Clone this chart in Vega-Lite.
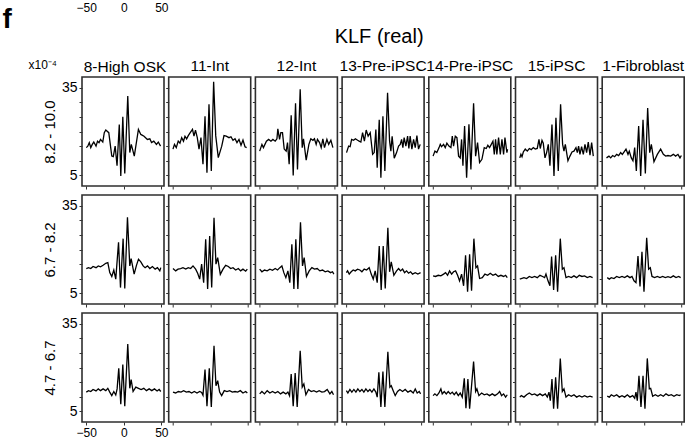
{
  "$schema": "https://vega.github.io/schema/vega-lite/v6.json",
  "background": "white",
  "padding": {"left": 1, "top": 0, "right": 2, "bottom": 2},
  "title": {"text": "KLF (real)", "fontSize": 20, "fontWeight": "normal", "frame": "bounds", "anchor": "middle", "offset": -47, "dx": 36, "color": "#000000"},
  "data": {"values": [
    {"p":11,"x":-50,"y":14.5},{"p":11,"x":-48,"y":15},{"p":11,"x":-46,"y":16.2},{"p":11,"x":-44,"y":14.5},{"p":11,"x":-42,"y":15.6},{"p":11,"x":-40,"y":16.4},{"p":11,"x":-37,"y":15},{"p":11,"x":-35,"y":16.7},{"p":11,"x":-33,"y":16.2},{"p":11,"x":-31,"y":17.3},{"p":11,"x":-28,"y":16.4},{"p":11,"x":-26,"y":19.6},{"p":11,"x":-24,"y":20.5},{"p":11,"x":-20,"y":19.6},{"p":11,"x":-18,"y":15.6},{"p":11,"x":-16,"y":11.6},{"p":11,"x":-14,"y":11.4},{"p":11,"x":-11.5,"y":15},{"p":11,"x":-9,"y":8.3},{"p":11,"x":-6,"y":22.4},{"p":11,"x":-4,"y":4.8},{"p":11,"x":-1.3,"y":25},{"p":11,"x":1.3,"y":5.7},{"p":11,"x":5.3,"y":32.1},{"p":11,"x":8,"y":12.8},{"p":11,"x":10,"y":15.6},{"p":11,"x":14,"y":11.6},{"p":11,"x":19.5,"y":20.7},{"p":11,"x":22.7,"y":19},{"p":11,"x":27,"y":18.4},{"p":11,"x":31.5,"y":17.3},{"p":11,"x":34.7,"y":17.5},{"p":11,"x":37,"y":16.2},{"p":11,"x":40,"y":16.7},{"p":11,"x":43.5,"y":15.6},{"p":11,"x":46,"y":16.4},{"p":11,"x":49,"y":15},
    {"p":12,"x":-50,"y":14},{"p":12,"x":-48,"y":15.6},{"p":12,"x":-45.6,"y":14.5},{"p":12,"x":-43,"y":16.7},{"p":12,"x":-40.7,"y":16},{"p":12,"x":-38.4,"y":17.9},{"p":12,"x":-36,"y":16.7},{"p":12,"x":-34,"y":18.4},{"p":12,"x":-31.8,"y":17.5},{"p":12,"x":-29.6,"y":18.6},{"p":12,"x":-27,"y":19.6},{"p":12,"x":-24,"y":20.7},{"p":12,"x":-22,"y":18.4},{"p":12,"x":-20,"y":20.5},{"p":12,"x":-17.6,"y":17.9},{"p":12,"x":-15.3,"y":14},{"p":12,"x":-12.7,"y":17.9},{"p":12,"x":-10,"y":8.8},{"p":12,"x":-7.3,"y":25.2},{"p":12,"x":-4.7,"y":5.9},{"p":12,"x":-2,"y":29.3},{"p":12,"x":1.1,"y":6.5},{"p":12,"x":4.2,"y":37},{"p":12,"x":7,"y":18.5},{"p":12,"x":10.4,"y":11.1},{"p":12,"x":15,"y":15},{"p":12,"x":18,"y":18.6},{"p":12,"x":21,"y":18.4},{"p":12,"x":24.7,"y":17.9},{"p":12,"x":27.3,"y":18.2},{"p":12,"x":30,"y":17},{"p":12,"x":32.7,"y":17.5},{"p":12,"x":35.3,"y":16.2},{"p":12,"x":38,"y":17.3},{"p":12,"x":40.7,"y":15.3},{"p":12,"x":43.3,"y":17.1},{"p":12,"x":46,"y":14.8},{"p":12,"x":48.2,"y":14.5},
    {"p":13,"x":-50,"y":13.3},{"p":13,"x":-47,"y":15.6},{"p":13,"x":-45,"y":14.5},{"p":13,"x":-41,"y":16.7},{"p":13,"x":-38,"y":17.3},{"p":13,"x":-35,"y":16.7},{"p":13,"x":-32.4,"y":17.3},{"p":13,"x":-29.3,"y":16.7},{"p":13,"x":-27,"y":17.5},{"p":13,"x":-25.8,"y":20.9},{"p":13,"x":-23.5,"y":17.3},{"p":13,"x":-21.8,"y":19.6},{"p":13,"x":-19.6,"y":19.6},{"p":13,"x":-17.3,"y":14},{"p":13,"x":-14.7,"y":13.3},{"p":13,"x":-12.9,"y":16.2},{"p":13,"x":-10.7,"y":8.8},{"p":13,"x":-8,"y":25.5},{"p":13,"x":-5.3,"y":5},{"p":13,"x":-2.2,"y":29.6},{"p":13,"x":0.4,"y":7},{"p":13,"x":4,"y":34.4},{"p":13,"x":6.7,"y":14.5},{"p":13,"x":8.4,"y":17.5},{"p":13,"x":12,"y":10.2},{"p":13,"x":15.6,"y":15.6},{"p":13,"x":18.2,"y":17.5},{"p":13,"x":21,"y":17},{"p":13,"x":23,"y":17.5},{"p":13,"x":25.3,"y":15.6},{"p":13,"x":27,"y":17.3},{"p":13,"x":29.8,"y":16.2},{"p":13,"x":32,"y":14.5},{"p":13,"x":34.2,"y":17.5},{"p":13,"x":36.4,"y":14.5},{"p":13,"x":39.6,"y":17.3},{"p":13,"x":42,"y":15.6},{"p":13,"x":44.9,"y":17},{"p":13,"x":47.6,"y":14.5},
    {"p":14,"x":-49.8,"y":12.8},{"p":14,"x":-47,"y":15},{"p":14,"x":-45,"y":14.8},{"p":14,"x":-43,"y":17.3},{"p":14,"x":-40.4,"y":17},{"p":14,"x":-38,"y":17.5},{"p":14,"x":-35,"y":17},{"p":14,"x":-33,"y":16.7},{"p":14,"x":-30.7,"y":16.4},{"p":14,"x":-28.4,"y":19.6},{"p":14,"x":-26,"y":16.7},{"p":14,"x":-23.6,"y":20.5},{"p":14,"x":-21,"y":18.4},{"p":14,"x":-18.2,"y":19.6},{"p":14,"x":-15,"y":12.2},{"p":14,"x":-12.9,"y":12.8},{"p":14,"x":-10.7,"y":20.7},{"p":14,"x":-8.9,"y":7.6},{"p":14,"x":-6.2,"y":24},{"p":14,"x":-4,"y":4.2},{"p":14,"x":-1.3,"y":25.2},{"p":14,"x":1.3,"y":6.5},{"p":14,"x":4.9,"y":33.2},{"p":14,"x":7.6,"y":16.7},{"p":14,"x":9.3,"y":13.3},{"p":14,"x":11,"y":18.4},{"p":14,"x":13.8,"y":10.9},{"p":14,"x":16.9,"y":12.8},{"p":14,"x":19.6,"y":15},{"p":14,"x":21.8,"y":15.6},{"p":14,"x":23.6,"y":17.3},{"p":14,"x":25.3,"y":14.5},{"p":14,"x":27,"y":17.9},{"p":14,"x":29.3,"y":15},{"p":14,"x":31.6,"y":18.4},{"p":14,"x":33.3,"y":14.2},{"p":14,"x":35,"y":18.4},{"p":14,"x":37.3,"y":14},{"p":14,"x":39.6,"y":17.3},{"p":14,"x":41.8,"y":14.5},{"p":14,"x":44,"y":18.6},{"p":14,"x":46.2,"y":14},{"p":14,"x":48.4,"y":15.6},
    {"p":15,"x":-50,"y":11.6},{"p":15,"x":-47.5,"y":13.3},{"p":15,"x":-45,"y":12.8},{"p":15,"x":-42,"y":14.5},{"p":15,"x":-40.4,"y":15.6},{"p":15,"x":-38.7,"y":14.8},{"p":15,"x":-36,"y":15.6},{"p":15,"x":-33.8,"y":14.5},{"p":15,"x":-31.6,"y":16},{"p":15,"x":-28.9,"y":15},{"p":15,"x":-26.2,"y":14.5},{"p":15,"x":-24.4,"y":18.4},{"p":15,"x":-22.7,"y":15},{"p":15,"x":-20.4,"y":18.4},{"p":15,"x":-18.2,"y":17.9},{"p":15,"x":-16,"y":11.6},{"p":15,"x":-13.8,"y":11},{"p":15,"x":-12,"y":17.3},{"p":15,"x":-10.2,"y":8.3},{"p":15,"x":-8,"y":21.9},{"p":15,"x":-5.3,"y":4.2},{"p":15,"x":-2.2,"y":22.5},{"p":15,"x":0.4,"y":7},{"p":15,"x":4,"y":29.6},{"p":15,"x":6.7,"y":11.6},{"p":15,"x":9.3,"y":16.2},{"p":15,"x":12,"y":9.4},{"p":15,"x":15.1,"y":10.5},{"p":15,"x":18.2,"y":14.5},{"p":15,"x":20.9,"y":14.2},{"p":15,"x":23,"y":15.3},{"p":15,"x":25.3,"y":14.5},{"p":15,"x":27.6,"y":15.6},{"p":15,"x":29.8,"y":16.7},{"p":15,"x":31.6,"y":12.2},{"p":15,"x":33.3,"y":17.3},{"p":15,"x":35,"y":12.2},{"p":15,"x":37.3,"y":17.9},{"p":15,"x":39.6,"y":12.2},{"p":15,"x":41.8,"y":17.3},{"p":15,"x":44,"y":12.2},{"p":15,"x":45.8,"y":17.9},{"p":15,"x":48.4,"y":12.8},{"p":15,"x":49.3,"y":14},
    {"p":16,"x":-50,"y":11},{"p":16,"x":-48.5,"y":12.2},{"p":16,"x":-47,"y":11.4},{"p":16,"x":-45.3,"y":13},{"p":16,"x":-42.7,"y":14},{"p":16,"x":-40,"y":13.3},{"p":16,"x":-37.3,"y":14.2},{"p":16,"x":-34.7,"y":13.8},{"p":16,"x":-32,"y":14.5},{"p":16,"x":-29.3,"y":14},{"p":16,"x":-26.7,"y":14.2},{"p":16,"x":-24.4,"y":17.3},{"p":16,"x":-22.7,"y":14.2},{"p":16,"x":-20.4,"y":17},{"p":16,"x":-18.7,"y":16},{"p":16,"x":-16.4,"y":11},{"p":16,"x":-14.2,"y":12.8},{"p":16,"x":-12,"y":15.6},{"p":16,"x":-9.8,"y":8.3},{"p":16,"x":-7.1,"y":22.4},{"p":16,"x":-4.4,"y":4.8},{"p":16,"x":-1.8,"y":24.7},{"p":16,"x":1.3,"y":6.5},{"p":16,"x":4.4,"y":29.3},{"p":16,"x":7.1,"y":15.6},{"p":16,"x":8.9,"y":13.3},{"p":16,"x":10.7,"y":15.6},{"p":16,"x":14.2,"y":10},{"p":16,"x":16.9,"y":11.6},{"p":16,"x":19.6,"y":13},{"p":16,"x":22.2,"y":13.3},{"p":16,"x":24.9,"y":14.5},{"p":16,"x":26.7,"y":12.8},{"p":16,"x":28.4,"y":15},{"p":16,"x":30.2,"y":12.2},{"p":16,"x":32.4,"y":14.8},{"p":16,"x":34.7,"y":12.2},{"p":16,"x":36.9,"y":15.6},{"p":16,"x":39.1,"y":12.8},{"p":16,"x":41.3,"y":16.4},{"p":16,"x":43.6,"y":11.9},{"p":16,"x":45.8,"y":16.2},{"p":16,"x":48,"y":11.6},
    {"p":17,"x":-50,"y":11},{"p":17,"x":-46.7,"y":11.6},{"p":17,"x":-44.4,"y":11},{"p":17,"x":-41.8,"y":11.8},{"p":17,"x":-39.1,"y":11.4},{"p":17,"x":-36.4,"y":12.2},{"p":17,"x":-33.8,"y":11.8},{"p":17,"x":-31.1,"y":12.8},{"p":17,"x":-28.9,"y":12.2},{"p":17,"x":-26.7,"y":13},{"p":17,"x":-24,"y":14},{"p":17,"x":-21.3,"y":12.2},{"p":17,"x":-19.6,"y":13.3},{"p":17,"x":-16.9,"y":11},{"p":17,"x":-14.7,"y":10},{"p":17,"x":-12.4,"y":14.5},{"p":17,"x":-10.2,"y":6.5},{"p":17,"x":-7.1,"y":21.9},{"p":17,"x":-4.4,"y":4.8},{"p":17,"x":-1.3,"y":24},{"p":17,"x":1.8,"y":5.7},{"p":17,"x":4.9,"y":28},{"p":17,"x":7.6,"y":12.8},{"p":17,"x":9.8,"y":15.6},{"p":17,"x":13.3,"y":9.7},{"p":17,"x":17.8,"y":12.2},{"p":17,"x":22.2,"y":14},{"p":17,"x":25.8,"y":12.2},{"p":17,"x":28.9,"y":11.6},{"p":17,"x":32,"y":11.8},{"p":17,"x":35.6,"y":11.6},{"p":17,"x":39.1,"y":12.2},{"p":17,"x":42.2,"y":11.6},{"p":17,"x":45.3,"y":12.2},{"p":17,"x":48,"y":11},{"p":17,"x":49.8,"y":11.8},
    {"p":21,"x":-50,"y":13.5},{"p":21,"x":-47,"y":13.8},{"p":21,"x":-44,"y":13.5},{"p":21,"x":-41,"y":14.2},{"p":21,"x":-37,"y":13.8},{"p":21,"x":-34,"y":14.4},{"p":21,"x":-31,"y":14.1},{"p":21,"x":-27.6,"y":14.6},{"p":21,"x":-24,"y":15.3},{"p":21,"x":-21.3,"y":15.5},{"p":21,"x":-18.7,"y":12.1},{"p":21,"x":-16,"y":10.8},{"p":21,"x":-13.3,"y":13},{"p":21,"x":-10.7,"y":9.9},{"p":21,"x":-7,"y":22.5},{"p":21,"x":-4.4,"y":7},{"p":21,"x":-0.9,"y":23.7},{"p":21,"x":1.3,"y":6.7},{"p":21,"x":4.9,"y":31},{"p":21,"x":8,"y":14.4},{"p":21,"x":9.8,"y":16.9},{"p":21,"x":13.8,"y":11.6},{"p":21,"x":16.9,"y":14.6},{"p":21,"x":19.6,"y":16.7},{"p":21,"x":22.7,"y":15.8},{"p":21,"x":25.8,"y":14.4},{"p":21,"x":28.4,"y":13.8},{"p":21,"x":31.6,"y":14.4},{"p":21,"x":34.7,"y":13.5},{"p":21,"x":38.2,"y":14.2},{"p":21,"x":41.8,"y":13.3},{"p":21,"x":44.9,"y":13.8},{"p":21,"x":48,"y":12.7},{"p":21,"x":49.3,"y":13.8},
    {"p":22,"x":-50,"y":13.5},{"p":22,"x":-46.4,"y":12.7},{"p":22,"x":-43.3,"y":13.3},{"p":22,"x":-39.8,"y":13.5},{"p":22,"x":-36.7,"y":13.8},{"p":22,"x":-33,"y":13.3},{"p":22,"x":-29.6,"y":13.8},{"p":22,"x":-26.4,"y":13.5},{"p":22,"x":-23.3,"y":14.4},{"p":22,"x":-19.8,"y":13.3},{"p":22,"x":-17.1,"y":11.9},{"p":22,"x":-14.4,"y":9.9},{"p":22,"x":-11.8,"y":15},{"p":22,"x":-9.1,"y":8.7},{"p":22,"x":-6.4,"y":23.5},{"p":22,"x":-3.8,"y":6.5},{"p":22,"x":-1.1,"y":24.6},{"p":22,"x":1.6,"y":7},{"p":22,"x":4.7,"y":30.8},{"p":22,"x":7.3,"y":15},{"p":22,"x":9.6,"y":17.2},{"p":22,"x":13.1,"y":11.5},{"p":22,"x":16.7,"y":13.3},{"p":22,"x":20.2,"y":14.6},{"p":22,"x":23.8,"y":14.2},{"p":22,"x":26.9,"y":13.5},{"p":22,"x":30,"y":13.8},{"p":22,"x":33.6,"y":13},{"p":22,"x":37.1,"y":13.5},{"p":22,"x":40.2,"y":12.7},{"p":22,"x":43.3,"y":13.3},{"p":22,"x":46.9,"y":12.6},{"p":22,"x":49.1,"y":13.3},
    {"p":23,"x":-50,"y":13.3},{"p":23,"x":-47,"y":12.4},{"p":23,"x":-43.6,"y":13},{"p":23,"x":-40,"y":12.7},{"p":23,"x":-36.4,"y":13.3},{"p":23,"x":-32.9,"y":12.9},{"p":23,"x":-29.3,"y":13.5},{"p":23,"x":-26.2,"y":13},{"p":23,"x":-23.1,"y":13.8},{"p":23,"x":-20.4,"y":14.4},{"p":23,"x":-17.8,"y":12.1},{"p":23,"x":-15.1,"y":10.4},{"p":23,"x":-12.4,"y":12.7},{"p":23,"x":-9.8,"y":8.7},{"p":23,"x":-7.1,"y":21.8},{"p":23,"x":-4.4,"y":6.5},{"p":23,"x":-1.8,"y":23.5},{"p":23,"x":0.9,"y":6.5},{"p":23,"x":4.4,"y":29.3},{"p":23,"x":7.1,"y":14.4},{"p":23,"x":9.3,"y":17.2},{"p":23,"x":12.4,"y":10.8},{"p":23,"x":16,"y":12.7},{"p":23,"x":19.6,"y":13.8},{"p":23,"x":23.1,"y":13.3},{"p":23,"x":26.7,"y":13.5},{"p":23,"x":30.2,"y":12.7},{"p":23,"x":33.8,"y":13},{"p":23,"x":37.3,"y":12.4},{"p":23,"x":40.9,"y":12.7},{"p":23,"x":44.4,"y":12.1},{"p":23,"x":47.1,"y":12.4},{"p":23,"x":48.9,"y":11.6},
    {"p":24,"x":-50,"y":12.1},{"p":24,"x":-48.4,"y":12.7},{"p":24,"x":-46.2,"y":11.6},{"p":24,"x":-43.6,"y":12.4},{"p":24,"x":-40.9,"y":13},{"p":24,"x":-38.2,"y":12.7},{"p":24,"x":-35.1,"y":13.3},{"p":24,"x":-32,"y":13},{"p":24,"x":-29.3,"y":12.4},{"p":24,"x":-26.2,"y":13.3},{"p":24,"x":-23.1,"y":13},{"p":24,"x":-19.6,"y":13.8},{"p":24,"x":-16.9,"y":11.6},{"p":24,"x":-14.2,"y":9.9},{"p":24,"x":-11.6,"y":12.7},{"p":24,"x":-8.9,"y":8.7},{"p":24,"x":-6.2,"y":21.2},{"p":24,"x":-3.6,"y":6.2},{"p":24,"x":-0.9,"y":21.2},{"p":24,"x":1.8,"y":6.7},{"p":24,"x":5.3,"y":27.4},{"p":24,"x":7.6,"y":12.4},{"p":24,"x":9.8,"y":15.8},{"p":24,"x":13.3,"y":11.2},{"p":24,"x":16.9,"y":12.7},{"p":24,"x":19.6,"y":13.5},{"p":24,"x":22.2,"y":12.7},{"p":24,"x":24.9,"y":13.3},{"p":24,"x":27.6,"y":12.1},{"p":24,"x":30.2,"y":12.7},{"p":24,"x":32.9,"y":11.9},{"p":24,"x":35.6,"y":12.4},{"p":24,"x":38.2,"y":11.6},{"p":24,"x":41.8,"y":12.1},{"p":24,"x":45.3,"y":11.6},{"p":24,"x":48.9,"y":12.1},
    {"p":25,"x":-50,"y":11},{"p":25,"x":-46.7,"y":10.8},{"p":25,"x":-43.1,"y":11.2},{"p":25,"x":-39.6,"y":11},{"p":25,"x":-36,"y":11.6},{"p":25,"x":-33.3,"y":12.1},{"p":25,"x":-30.7,"y":11.2},{"p":25,"x":-28,"y":12.7},{"p":25,"x":-25.3,"y":11.6},{"p":25,"x":-22.7,"y":12.4},{"p":25,"x":-20,"y":12.7},{"p":25,"x":-17.3,"y":11.2},{"p":25,"x":-14.7,"y":9.3},{"p":25,"x":-12,"y":11.6},{"p":25,"x":-9.3,"y":7.6},{"p":25,"x":-6.7,"y":18},{"p":25,"x":-4,"y":5.6},{"p":25,"x":-1.3,"y":18.4},{"p":25,"x":1.3,"y":5.9},{"p":25,"x":4.4,"y":23.7},{"p":25,"x":7.1,"y":13.8},{"p":25,"x":9.3,"y":14.4},{"p":25,"x":12,"y":10.1},{"p":25,"x":15.6,"y":10.4},{"p":25,"x":19.1,"y":11.6},{"p":25,"x":22.7,"y":11.2},{"p":25,"x":26.2,"y":11.9},{"p":25,"x":29.8,"y":11.2},{"p":25,"x":33.3,"y":11.6},{"p":25,"x":36.9,"y":10.8},{"p":25,"x":40.4,"y":11.2},{"p":25,"x":44,"y":10.8},{"p":25,"x":46.7,"y":11.2},{"p":25,"x":48.9,"y":10.4},
    {"p":26,"x":-50,"y":9.9},{"p":26,"x":-48,"y":10.1},{"p":26,"x":-44.4,"y":10.4},{"p":26,"x":-40.9,"y":10.1},{"p":26,"x":-37.3,"y":10.8},{"p":26,"x":-33.8,"y":10.4},{"p":26,"x":-30.2,"y":10.8},{"p":26,"x":-26.7,"y":10.4},{"p":26,"x":-23.1,"y":11.2},{"p":26,"x":-19.6,"y":10.8},{"p":26,"x":-16.9,"y":10.4},{"p":26,"x":-15.1,"y":11.6},{"p":26,"x":-12.4,"y":9.3},{"p":26,"x":-9.8,"y":7.6},{"p":26,"x":-7.6,"y":17.6},{"p":26,"x":-4.9,"y":6.2},{"p":26,"x":-2.2,"y":18},{"p":26,"x":0.4,"y":5.6},{"p":26,"x":4,"y":23.7},{"p":26,"x":6.7,"y":13.3},{"p":26,"x":8.9,"y":13.8},{"p":26,"x":11.6,"y":10.4},{"p":26,"x":15.1,"y":10.8},{"p":26,"x":18.7,"y":10.4},{"p":26,"x":22.2,"y":11},{"p":26,"x":25.8,"y":10.4},{"p":26,"x":29.3,"y":11.2},{"p":26,"x":32.9,"y":10.8},{"p":26,"x":36.4,"y":11},{"p":26,"x":40,"y":10.4},{"p":26,"x":43.6,"y":10.8},{"p":26,"x":47.1,"y":10.4},
    {"p":27,"x":-49,"y":10.4},{"p":27,"x":-46.2,"y":9.9},{"p":27,"x":-43.6,"y":10.4},{"p":27,"x":-40,"y":10.1},{"p":27,"x":-36.4,"y":10.8},{"p":27,"x":-32.9,"y":10.4},{"p":27,"x":-29.3,"y":10.8},{"p":27,"x":-25.8,"y":10.4},{"p":27,"x":-22.2,"y":11},{"p":27,"x":-18.7,"y":10.4},{"p":27,"x":-16,"y":10.8},{"p":27,"x":-13.3,"y":9.3},{"p":27,"x":-10.7,"y":8.7},{"p":27,"x":-8,"y":17.8},{"p":27,"x":-5.3,"y":7.4},{"p":27,"x":-2.7,"y":19.2},{"p":27,"x":0,"y":5.6},{"p":27,"x":3.6,"y":24},{"p":27,"x":6.2,"y":13.3},{"p":27,"x":8.4,"y":13.8},{"p":27,"x":10.7,"y":10.8},{"p":27,"x":14.2,"y":10.4},{"p":27,"x":17.8,"y":10.8},{"p":27,"x":21.3,"y":10.4},{"p":27,"x":24.9,"y":10.8},{"p":27,"x":28.4,"y":10.4},{"p":27,"x":32,"y":10.7},{"p":27,"x":35.6,"y":10.4},{"p":27,"x":39.1,"y":11},{"p":27,"x":42.7,"y":10.4},{"p":27,"x":46.2,"y":10.8},{"p":27,"x":48.9,"y":10.4},
    {"p":31,"x":-50,"y":11.6},{"p":31,"x":-47,"y":12.1},{"p":31,"x":-44,"y":11.8},{"p":31,"x":-41,"y":12.5},{"p":31,"x":-37,"y":12},{"p":31,"x":-34,"y":12.7},{"p":31,"x":-31,"y":12.1},{"p":31,"x":-27.6,"y":12.7},{"p":31,"x":-24,"y":12.1},{"p":31,"x":-21.3,"y":12.9},{"p":31,"x":-18.7,"y":11.6},{"p":31,"x":-16,"y":10.4},{"p":31,"x":-13.3,"y":11.8},{"p":31,"x":-10.7,"y":10.6},{"p":31,"x":-8.9,"y":12.7},{"p":31,"x":-6.7,"y":19.7},{"p":31,"x":-4,"y":7.5},{"p":31,"x":-1.3,"y":21},{"p":31,"x":1.3,"y":6.8},{"p":31,"x":5.3,"y":28},{"p":31,"x":8,"y":12.9},{"p":31,"x":9.8,"y":15.9},{"p":31,"x":12.4,"y":11.8},{"p":31,"x":16,"y":13.3},{"p":31,"x":19.6,"y":12.9},{"p":31,"x":23.1,"y":12.5},{"p":31,"x":26.7,"y":12.9},{"p":31,"x":30.2,"y":12.1},{"p":31,"x":33.8,"y":12.7},{"p":31,"x":37.3,"y":12.1},{"p":31,"x":40.9,"y":12.7},{"p":31,"x":44.4,"y":12},{"p":31,"x":47.1,"y":12.5},{"p":31,"x":49.3,"y":11.8},
    {"p":32,"x":-50,"y":11.6},{"p":32,"x":-46.4,"y":11.3},{"p":32,"x":-42.9,"y":11.8},{"p":32,"x":-39.3,"y":11.6},{"p":32,"x":-35.8,"y":12.1},{"p":32,"x":-32.2,"y":11.6},{"p":32,"x":-28.7,"y":11.8},{"p":32,"x":-25.1,"y":11.3},{"p":32,"x":-21.6,"y":11.8},{"p":32,"x":-18,"y":11.3},{"p":32,"x":-14.4,"y":11.8},{"p":32,"x":-11.8,"y":11.5},{"p":32,"x":-10,"y":10.5},{"p":32,"x":-7.3,"y":19.3},{"p":32,"x":-4.7,"y":6.8},{"p":32,"x":-1.6,"y":19.7},{"p":32,"x":1.1,"y":6.5},{"p":32,"x":4.7,"y":27.4},{"p":32,"x":7.3,"y":13.8},{"p":32,"x":9.6,"y":15.5},{"p":32,"x":12.2,"y":11.6},{"p":32,"x":14.9,"y":10.4},{"p":32,"x":18.4,"y":12.1},{"p":32,"x":22,"y":11.8},{"p":32,"x":25.6,"y":12.1},{"p":32,"x":29.1,"y":11.6},{"p":32,"x":32.7,"y":11.8},{"p":32,"x":36.2,"y":11.6},{"p":32,"x":39.8,"y":12.1},{"p":32,"x":43.3,"y":11.3},{"p":32,"x":46.9,"y":11.8},{"p":32,"x":49.1,"y":11.3},
    {"p":33,"x":-50,"y":11},{"p":33,"x":-47,"y":11.8},{"p":33,"x":-43.6,"y":11},{"p":33,"x":-40,"y":12.1},{"p":33,"x":-36.4,"y":11.3},{"p":33,"x":-32.9,"y":11.8},{"p":33,"x":-29.3,"y":11.3},{"p":33,"x":-25.8,"y":11.8},{"p":33,"x":-22.2,"y":11},{"p":33,"x":-18.7,"y":11.6},{"p":33,"x":-15.1,"y":11},{"p":33,"x":-12.4,"y":11.6},{"p":33,"x":-10.2,"y":10.4},{"p":33,"x":-8,"y":17.8},{"p":33,"x":-5.3,"y":6.8},{"p":33,"x":-2.7,"y":18.1},{"p":33,"x":0,"y":6.5},{"p":33,"x":4,"y":25.7},{"p":33,"x":6.7,"y":13.3},{"p":33,"x":8.9,"y":14.4},{"p":33,"x":11.6,"y":10.7},{"p":33,"x":15.1,"y":12.5},{"p":33,"x":18.7,"y":11.8},{"p":33,"x":22.2,"y":12.1},{"p":33,"x":25.8,"y":11.6},{"p":33,"x":29.3,"y":12.1},{"p":33,"x":32.9,"y":11.6},{"p":33,"x":36.4,"y":11.8},{"p":33,"x":40,"y":12.5},{"p":33,"x":43.6,"y":11},{"p":33,"x":46.2,"y":11.8},{"p":33,"x":48.4,"y":10.7},
    {"p":34,"x":-50,"y":12.1},{"p":34,"x":-48,"y":11.3},{"p":34,"x":-45.3,"y":12.5},{"p":34,"x":-42.7,"y":11.6},{"p":34,"x":-40,"y":12.5},{"p":34,"x":-37.3,"y":11.6},{"p":34,"x":-34.7,"y":12.7},{"p":34,"x":-32,"y":11.8},{"p":34,"x":-29.3,"y":12.5},{"p":34,"x":-26.7,"y":11.6},{"p":34,"x":-24,"y":12.7},{"p":34,"x":-21.3,"y":11.8},{"p":34,"x":-18.7,"y":12.5},{"p":34,"x":-16,"y":11.6},{"p":34,"x":-13.3,"y":12.7},{"p":34,"x":-10.7,"y":11.6},{"p":34,"x":-8.9,"y":9.9},{"p":34,"x":-6.7,"y":18.4},{"p":34,"x":-4,"y":6.5},{"p":34,"x":-1.3,"y":18.6},{"p":34,"x":1.3,"y":6.5},{"p":34,"x":5.3,"y":25.4},{"p":34,"x":8,"y":13.3},{"p":34,"x":9.8,"y":13.8},{"p":34,"x":12.4,"y":12.1},{"p":34,"x":15.1,"y":10.4},{"p":34,"x":18.2,"y":11.8},{"p":34,"x":21.3,"y":12.5},{"p":34,"x":24.9,"y":11.8},{"p":34,"x":28.4,"y":12.5},{"p":34,"x":32,"y":11.6},{"p":34,"x":35.6,"y":12.1},{"p":34,"x":39.1,"y":11.3},{"p":34,"x":41.8,"y":12.7},{"p":34,"x":44.4,"y":11.3},{"p":34,"x":47.1,"y":11.8},{"p":34,"x":48.9,"y":11},
    {"p":35,"x":-50,"y":10.4},{"p":35,"x":-47.6,"y":11},{"p":35,"x":-44.9,"y":10.4},{"p":35,"x":-42.2,"y":11.3},{"p":35,"x":-39.6,"y":12.7},{"p":35,"x":-37.8,"y":11},{"p":35,"x":-35.1,"y":11.8},{"p":35,"x":-32.4,"y":11},{"p":35,"x":-29.8,"y":11.8},{"p":35,"x":-27.1,"y":11},{"p":35,"x":-24.4,"y":11.6},{"p":35,"x":-21.8,"y":10.7},{"p":35,"x":-19.1,"y":11.6},{"p":35,"x":-16.4,"y":10.4},{"p":35,"x":-13.8,"y":11.3},{"p":35,"x":-11.1,"y":9.9},{"p":35,"x":-8.4,"y":16.3},{"p":35,"x":-6.2,"y":6.1},{"p":35,"x":-3.6,"y":16.1},{"p":35,"x":-1.3,"y":5.9},{"p":35,"x":4,"y":22},{"p":35,"x":6.7,"y":11.8},{"p":35,"x":8.4,"y":12.7},{"p":35,"x":11.1,"y":10.4},{"p":35,"x":14.7,"y":11.3},{"p":35,"x":18.2,"y":10.7},{"p":35,"x":21.8,"y":11},{"p":35,"x":25.3,"y":10.4},{"p":35,"x":28.9,"y":11},{"p":35,"x":32.4,"y":10.4},{"p":35,"x":36,"y":11},{"p":35,"x":38.7,"y":11.8},{"p":35,"x":41.3,"y":10.4},{"p":35,"x":44,"y":11},{"p":35,"x":46.7,"y":9.9},{"p":35,"x":48.9,"y":10.7},
    {"p":36,"x":-50,"y":9.9},{"p":36,"x":-48,"y":10.4},{"p":36,"x":-44.4,"y":9.9},{"p":36,"x":-40.9,"y":10.7},{"p":36,"x":-37.3,"y":11.3},{"p":36,"x":-33.8,"y":10.7},{"p":36,"x":-30.2,"y":11},{"p":36,"x":-26.7,"y":10.4},{"p":36,"x":-23.1,"y":11},{"p":36,"x":-19.6,"y":10.4},{"p":36,"x":-16,"y":11},{"p":36,"x":-13.3,"y":9.9},{"p":36,"x":-11.1,"y":11.6},{"p":36,"x":-9.3,"y":8.7},{"p":36,"x":-7.1,"y":16.1},{"p":36,"x":-4.9,"y":5.9},{"p":36,"x":-2.2,"y":16.7},{"p":36,"x":0.4,"y":5.9},{"p":36,"x":4,"y":23.1},{"p":36,"x":6.7,"y":11.8},{"p":36,"x":8.9,"y":12.7},{"p":36,"x":11.6,"y":9.9},{"p":36,"x":15.1,"y":10.7},{"p":36,"x":18.7,"y":10.2},{"p":36,"x":22.2,"y":10.7},{"p":36,"x":25.8,"y":9.9},{"p":36,"x":29.3,"y":10.4},{"p":36,"x":32.9,"y":9.9},{"p":36,"x":36.4,"y":10.4},{"p":36,"x":40,"y":9.9},{"p":36,"x":43.6,"y":10.2},{"p":36,"x":47.1,"y":9.9},
    {"p":37,"x":-49,"y":10.2},{"p":37,"x":-46.2,"y":9.9},{"p":37,"x":-43.6,"y":10.7},{"p":37,"x":-40,"y":10.2},{"p":37,"x":-36.4,"y":10.7},{"p":37,"x":-32.9,"y":9.9},{"p":37,"x":-29.3,"y":10.4},{"p":37,"x":-25.8,"y":9.9},{"p":37,"x":-22.2,"y":10.7},{"p":37,"x":-18.7,"y":9.9},{"p":37,"x":-15.1,"y":10.4},{"p":37,"x":-12.4,"y":9.5},{"p":37,"x":-10.7,"y":11.6},{"p":37,"x":-8.9,"y":8.7},{"p":37,"x":-6.7,"y":17.2},{"p":37,"x":-4,"y":6.5},{"p":37,"x":-1.3,"y":17.2},{"p":37,"x":1.3,"y":5.9},{"p":37,"x":4.4,"y":23.1},{"p":37,"x":7.1,"y":12.7},{"p":37,"x":8.9,"y":12.9},{"p":37,"x":11.6,"y":10.2},{"p":37,"x":15.1,"y":10.7},{"p":37,"x":18.7,"y":10.2},{"p":37,"x":22.2,"y":10.7},{"p":37,"x":25.8,"y":10.2},{"p":37,"x":29.3,"y":11},{"p":37,"x":32.9,"y":10.4},{"p":37,"x":36.4,"y":10.7},{"p":37,"x":40,"y":10.2},{"p":37,"x":43.6,"y":10.7},{"p":37,"x":47.1,"y":10.4},{"p":37,"x":48.9,"y":10.7}
  ]},
  "columns": 7,
  "bounds": "flush",
  "spacing": {"row": 9, "column": 4.7},
  "concat": [
    {
      "title": {"text": "8-High OSK", "offset": -74, "dx": 2},
      "transform": [{"filter": "datum.p==11"}],
      "layer": [
        {"mark": "line", "encoding": {
          "x": {"field": "x", "type": "quantitative", "scale": {"domain": [-55.7, 53.6], "nice": false}, "axis": {"values": [-50, 0, 50], "labels": false, "title": "x10⁻⁴", "titleFontSize": 12, "titleAngle": 0, "titleAlign": "left", "titleBaseline": "alphabetic", "titleX": -54, "titleY": -118}},
          "y": {"field": "y", "type": "quantitative", "scale": {"domain": [1.4, 38.6], "nice": false}, "axis": {"values": [5, 10, 15, 20, 25, 30, 35], "labelExpr": "datum.value==5||datum.value==35?datum.label:''", "title": "8.2 - 10.0", "titleFontSize": 15, "titleAngle": -90, "titleAlign": "center", "titleBaseline": "alphabetic", "titleX": -28, "titleY": 54.5}}
        }},
        {"transform": [{"filter": "false"}], "mark": "line", "encoding": {
          "x": {"field": "x", "type": "quantitative", "scale": {"domain": [-55.7, 53.6], "nice": false}, "axis": {"orient": "top", "offset": 63, "values": [-50, 0, 50], "ticks": false, "labelPadding": 0, "title": "f", "titleFontSize": 28, "titleFontWeight": "bold", "titleAngle": 0, "titleAlign": "left", "titleBaseline": "alphabetic", "titleX": -80, "titleY": 13}},
          "y": {"field": "y", "type": "quantitative", "axis": null}
        }}
      ],
      "resolve": {"axis": {"x": "independent", "y": "independent"}}
    },
    {"title": "11-Int", "transform": [{"filter": "datum.p==12"}], "mark": "line", "encoding": {"x": {"field": "x", "type": "quantitative", "scale": {"domain": [-55.7, 53.6], "nice": false}, "axis": {"values": [-50, 0, 50], "labels": false, "title": null}}, "y": {"field": "y", "type": "quantitative", "scale": {"domain": [1.4, 38.6], "nice": false}, "axis": {"values": [5, 10, 15, 20, 25, 30, 35], "labels": false, "title": null}}}},
    {"title": "12-Int", "transform": [{"filter": "datum.p==13"}], "mark": "line", "encoding": {"x": {"field": "x", "type": "quantitative", "scale": {"domain": [-55.7, 53.6], "nice": false}, "axis": {"values": [-50, 0, 50], "labels": false, "title": null}}, "y": {"field": "y", "type": "quantitative", "scale": {"domain": [1.4, 38.6], "nice": false}, "axis": {"values": [5, 10, 15, 20, 25, 30, 35], "labels": false, "title": null}}}},
    {"title": "13-Pre-iPSC", "transform": [{"filter": "datum.p==14"}], "mark": "line", "encoding": {"x": {"field": "x", "type": "quantitative", "scale": {"domain": [-55.7, 53.6], "nice": false}, "axis": {"values": [-50, 0, 50], "labels": false, "title": null}}, "y": {"field": "y", "type": "quantitative", "scale": {"domain": [1.4, 38.6], "nice": false}, "axis": {"values": [5, 10, 15, 20, 25, 30, 35], "labels": false, "title": null}}}},
    {"title": "14-Pre-iPSC", "transform": [{"filter": "datum.p==15"}], "mark": "line", "encoding": {"x": {"field": "x", "type": "quantitative", "scale": {"domain": [-55.7, 53.6], "nice": false}, "axis": {"values": [-50, 0, 50], "labels": false, "title": null}}, "y": {"field": "y", "type": "quantitative", "scale": {"domain": [1.4, 38.6], "nice": false}, "axis": {"values": [5, 10, 15, 20, 25, 30, 35], "labels": false, "title": null}}}},
    {"title": "15-iPSC", "transform": [{"filter": "datum.p==16"}], "mark": "line", "encoding": {"x": {"field": "x", "type": "quantitative", "scale": {"domain": [-55.7, 53.6], "nice": false}, "axis": {"values": [-50, 0, 50], "labels": false, "title": null}}, "y": {"field": "y", "type": "quantitative", "scale": {"domain": [1.4, 38.6], "nice": false}, "axis": {"values": [5, 10, 15, 20, 25, 30, 35], "labels": false, "title": null}}}},
    {"title": "1-Fibroblast", "transform": [{"filter": "datum.p==17"}], "mark": "line", "encoding": {"x": {"field": "x", "type": "quantitative", "scale": {"domain": [-55.7, 53.6], "nice": false}, "axis": {"values": [-50, 0, 50], "labels": false, "title": null}}, "y": {"field": "y", "type": "quantitative", "scale": {"domain": [1.4, 38.6], "nice": false}, "axis": {"values": [5, 10, 15, 20, 25, 30, 35], "labels": false, "title": null}}}},
    {"transform": [{"filter": "datum.p==21"}], "mark": "line", "encoding": {"x": {"field": "x", "type": "quantitative", "scale": {"domain": [-55.7, 53.6], "nice": false}, "axis": {"values": [-50, 0, 50], "labels": false, "title": null}}, "y": {"field": "y", "type": "quantitative", "scale": {"domain": [1.4, 38.6], "nice": false}, "axis": {"values": [5, 10, 15, 20, 25, 30, 35], "labelExpr": "datum.value==5||datum.value==35?datum.label:''", "title": "6.7 - 8.2", "titleFontSize": 15, "titleAngle": -90, "titleAlign": "center", "titleBaseline": "alphabetic", "titleX": -28, "titleY": 54.5}}}},
    {"transform": [{"filter": "datum.p==22"}], "mark": "line", "encoding": {"x": {"field": "x", "type": "quantitative", "scale": {"domain": [-55.7, 53.6], "nice": false}, "axis": {"values": [-50, 0, 50], "labels": false, "title": null}}, "y": {"field": "y", "type": "quantitative", "scale": {"domain": [1.4, 38.6], "nice": false}, "axis": {"values": [5, 10, 15, 20, 25, 30, 35], "labels": false, "title": null}}}},
    {"transform": [{"filter": "datum.p==23"}], "mark": "line", "encoding": {"x": {"field": "x", "type": "quantitative", "scale": {"domain": [-55.7, 53.6], "nice": false}, "axis": {"values": [-50, 0, 50], "labels": false, "title": null}}, "y": {"field": "y", "type": "quantitative", "scale": {"domain": [1.4, 38.6], "nice": false}, "axis": {"values": [5, 10, 15, 20, 25, 30, 35], "labels": false, "title": null}}}},
    {"transform": [{"filter": "datum.p==24"}], "mark": "line", "encoding": {"x": {"field": "x", "type": "quantitative", "scale": {"domain": [-55.7, 53.6], "nice": false}, "axis": {"values": [-50, 0, 50], "labels": false, "title": null}}, "y": {"field": "y", "type": "quantitative", "scale": {"domain": [1.4, 38.6], "nice": false}, "axis": {"values": [5, 10, 15, 20, 25, 30, 35], "labels": false, "title": null}}}},
    {"transform": [{"filter": "datum.p==25"}], "mark": "line", "encoding": {"x": {"field": "x", "type": "quantitative", "scale": {"domain": [-55.7, 53.6], "nice": false}, "axis": {"values": [-50, 0, 50], "labels": false, "title": null}}, "y": {"field": "y", "type": "quantitative", "scale": {"domain": [1.4, 38.6], "nice": false}, "axis": {"values": [5, 10, 15, 20, 25, 30, 35], "labels": false, "title": null}}}},
    {"transform": [{"filter": "datum.p==26"}], "mark": "line", "encoding": {"x": {"field": "x", "type": "quantitative", "scale": {"domain": [-55.7, 53.6], "nice": false}, "axis": {"values": [-50, 0, 50], "labels": false, "title": null}}, "y": {"field": "y", "type": "quantitative", "scale": {"domain": [1.4, 38.6], "nice": false}, "axis": {"values": [5, 10, 15, 20, 25, 30, 35], "labels": false, "title": null}}}},
    {"transform": [{"filter": "datum.p==27"}], "mark": "line", "encoding": {"x": {"field": "x", "type": "quantitative", "scale": {"domain": [-55.7, 53.6], "nice": false}, "axis": {"values": [-50, 0, 50], "labels": false, "title": null}}, "y": {"field": "y", "type": "quantitative", "scale": {"domain": [1.4, 38.6], "nice": false}, "axis": {"values": [5, 10, 15, 20, 25, 30, 35], "labels": false, "title": null}}}},
    {"transform": [{"filter": "datum.p==31"}], "mark": "line", "encoding": {"x": {"field": "x", "type": "quantitative", "scale": {"domain": [-55.7, 53.6], "nice": false}, "axis": {"values": [-50, 0, 50], "labels": true, "title": null}}, "y": {"field": "y", "type": "quantitative", "scale": {"domain": [1.4, 38.6], "nice": false}, "axis": {"values": [5, 10, 15, 20, 25, 30, 35], "labelExpr": "datum.value==5||datum.value==35?datum.label:''", "title": "4.7 - 6.7", "titleFontSize": 15, "titleAngle": -90, "titleAlign": "center", "titleBaseline": "alphabetic", "titleX": -28, "titleY": 54.5}}}},
    {"transform": [{"filter": "datum.p==32"}], "mark": "line", "encoding": {"x": {"field": "x", "type": "quantitative", "scale": {"domain": [-55.7, 53.6], "nice": false}, "axis": {"values": [-50, 0, 50], "labels": false, "title": null}}, "y": {"field": "y", "type": "quantitative", "scale": {"domain": [1.4, 38.6], "nice": false}, "axis": {"values": [5, 10, 15, 20, 25, 30, 35], "labels": false, "title": null}}}},
    {"transform": [{"filter": "datum.p==33"}], "mark": "line", "encoding": {"x": {"field": "x", "type": "quantitative", "scale": {"domain": [-55.7, 53.6], "nice": false}, "axis": {"values": [-50, 0, 50], "labels": false, "title": null}}, "y": {"field": "y", "type": "quantitative", "scale": {"domain": [1.4, 38.6], "nice": false}, "axis": {"values": [5, 10, 15, 20, 25, 30, 35], "labels": false, "title": null}}}},
    {"transform": [{"filter": "datum.p==34"}], "mark": "line", "encoding": {"x": {"field": "x", "type": "quantitative", "scale": {"domain": [-55.7, 53.6], "nice": false}, "axis": {"values": [-50, 0, 50], "labels": false, "title": null}}, "y": {"field": "y", "type": "quantitative", "scale": {"domain": [1.4, 38.6], "nice": false}, "axis": {"values": [5, 10, 15, 20, 25, 30, 35], "labels": false, "title": null}}}},
    {"transform": [{"filter": "datum.p==35"}], "mark": "line", "encoding": {"x": {"field": "x", "type": "quantitative", "scale": {"domain": [-55.7, 53.6], "nice": false}, "axis": {"values": [-50, 0, 50], "labels": false, "title": null}}, "y": {"field": "y", "type": "quantitative", "scale": {"domain": [1.4, 38.6], "nice": false}, "axis": {"values": [5, 10, 15, 20, 25, 30, 35], "labels": false, "title": null}}}},
    {"transform": [{"filter": "datum.p==36"}], "mark": "line", "encoding": {"x": {"field": "x", "type": "quantitative", "scale": {"domain": [-55.7, 53.6], "nice": false}, "axis": {"values": [-50, 0, 50], "labels": false, "title": null}}, "y": {"field": "y", "type": "quantitative", "scale": {"domain": [1.4, 38.6], "nice": false}, "axis": {"values": [5, 10, 15, 20, 25, 30, 35], "labels": false, "title": null}}}},
    {"transform": [{"filter": "datum.p==37"}], "mark": "line", "encoding": {"x": {"field": "x", "type": "quantitative", "scale": {"domain": [-55.7, 53.6], "nice": false}, "axis": {"values": [-50, 0, 50], "labels": false, "title": null}}, "y": {"field": "y", "type": "quantitative", "scale": {"domain": [1.4, 38.6], "nice": false}, "axis": {"values": [5, 10, 15, 20, 25, 30, 35], "labels": false, "title": null}}}}
  ],
  "config": {
    "font": "Liberation Sans",
    "view": {"continuousWidth": 82, "continuousHeight": 109, "stroke": "#2e2e2e", "strokeWidth": 1.6},
    "axis": {"domain": false, "grid": false, "ticks": true, "tickColor": "#333333", "tickSize": 3, "tickWidth": 1, "labelColor": "#000000", "labelFont": "Liberation Sans", "labelFlush": false, "titleColor": "#000000", "titleFont": "Liberation Sans", "titleFontWeight": "normal"},
    "axisX": {"labelFontSize": 12, "labelPadding": 2},
    "axisY": {"labelFontSize": 14, "labelPadding": 2},
    "line": {"stroke": "#000000", "strokeWidth": 1.3},
    "title": {"fontSize": 15.5, "fontWeight": "normal", "color": "#000000", "offset": 3, "font": "Liberation Sans"}
  }
}
